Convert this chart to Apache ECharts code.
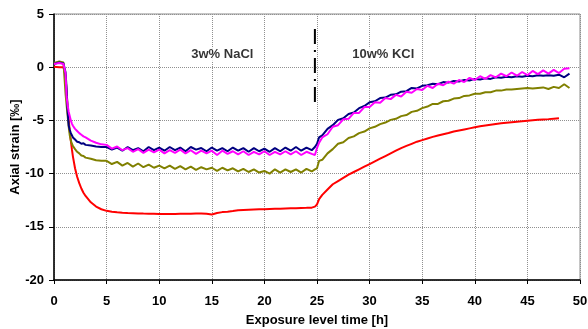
<!DOCTYPE html>
<html><head><meta charset="utf-8">
<script src="https://cdn.jsdelivr.net/npm/echarts@6/dist/echarts.min.js"></script>
<style>html,body{margin:0;padding:0;background:#fff}#c{width:588px;height:329px}</style>
</head><body><div id="c"></div>
<script>
const hours = [
 0, 0.5, 0.9, 1.1, 1.2, 1.3, 1.4, 1.5, 1.6, 1.7, 1.8, 2.0, 2.2, 2.4, 2.6, 2.8, 3.0, 3.5, 4.0, 4.5,
 5.0, 5.5, 6, 6.5, 7, 7.5, 8, 8.5, 9, 9.5, 10, 10.5, 11, 11.5, 12, 12.5, 13, 13.5, 14, 14.5,
 15, 15.5, 16, 16.5, 17, 17.5, 18, 18.5, 19, 19.5, 20, 20.5, 21, 21.5, 22, 22.5, 23, 23.5, 24, 24.5,
 24.8, 25.0, 25.2, 25.5, 26, 26.5, 27, 27.5, 28, 28.5, 29, 29.5, 30, 30.5, 31, 31.5, 32, 32.5, 33, 33.5,
 34, 34.5, 35, 35.5, 36, 36.5, 37, 37.5, 38, 38.5, 39, 39.5, 40, 40.5, 41, 41.5, 42, 42.5, 43, 43.5,
 44, 44.5, 45, 45.5, 46, 46.5, 47, 47.5, 48, 48.5, 49
];
const strainRed = [
 0.05, 0.0, 0.0, -0.8, -2.5, -3.8, -5.0, -6.0, -6.9, -7.7, -8.4, -9.5, -10.3, -10.9, -11.4, -11.8, -12.1, -12.7, -13.1, -13.35,
 -13.5, -13.58, -13.63, -13.67, -13.7, -13.72, -13.74, -13.76, -13.77, -13.78, -13.8, -13.8, -13.8, -13.79, -13.78, -13.78, -13.77, -13.76, -13.75, -13.78,
 -13.85, -13.7, -13.62, -13.58, -13.52, -13.45, -13.42, -13.4, -13.38, -13.36, -13.35, -13.33, -13.31, -13.3, -13.28, -13.26, -13.25, -13.23, -13.22, -13.2,
 -13.1, -12.9, -12.4, -12.0, -11.5, -11.0, -10.7, -10.4, -10.1, -9.85, -9.6, -9.35, -9.1, -8.85, -8.6, -8.35, -8.1, -7.85, -7.6, -7.4,
 -7.2, -7.0, -6.85, -6.7, -6.55, -6.42, -6.3, -6.18, -6.05, -5.95, -5.85, -5.75, -5.65, -5.55, -5.47, -5.4, -5.33, -5.27, -5.22, -5.17,
 -5.12, -5.07, -5.03, -4.99, -4.95, -4.91, -4.88, -4.84, -4.8, null, null
];
const strainOlive = [
 0.4, 0.55, 0.45, -2.5, -3.6, -4.6, -5.6, -6.4, -6.9, -7.2, -7.4, -7.7, -7.95, -8.1, -8.3, -8.35, -8.5, -8.6, -8.75, -8.8,
 -8.8, -9.1, -8.9, -9.25, -9.0, -9.35, -9.05, -9.4, -9.15, -9.45, -9.25, -9.5, -9.25, -9.55, -9.3, -9.6, -9.35, -9.65, -9.4, -9.6,
 -9.45, -9.75, -9.45, -9.7, -9.5, -9.8, -9.55, -9.85, -9.6, -9.9, -9.75, -10.0, -9.6, -9.9, -9.6, -9.85, -9.6, -9.9, -9.55, -9.8,
 -9.6, -9.5, -8.8, -8.7, -8.1, -7.7, -7.2, -7.05, -6.65, -6.5, -6.2, -6.05, -5.75, -5.6, -5.35, -5.2, -4.95, -4.85, -4.6, -4.5,
 -4.2, -4.1, -3.85, -3.7, -3.45, -3.45, -3.2, -3.15, -2.95, -2.9, -2.7, -2.65, -2.5, -2.5, -2.35, -2.35, -2.2, -2.2, -2.1, -2.1,
 -2.05, -2.0, -1.95, -2.0, -1.95, -1.9, -2.05, -1.85, -1.95, -1.6, -1.95
];
const strainNavy = [
 0.3, 0.45, 0.35, -0.5, -2.0, -4.2, -5.5, -5.9, -6.2, -6.4, -6.6, -6.8, -7.0, -7.05, -7.2, -7.15, -7.3, -7.35, -7.45, -7.5,
 -7.5, -7.75, -7.55, -7.85, -7.5, -7.8, -7.6, -7.9, -7.5, -7.8, -7.55, -7.85, -7.5, -7.8, -7.55, -7.9, -7.5, -7.75, -7.6, -7.9,
 -7.55, -7.85, -7.6, -7.9, -7.55, -7.85, -7.6, -7.95, -7.6, -7.9, -7.65, -7.95, -7.6, -7.9, -7.55, -7.85, -7.5, -7.85, -7.55, -7.8,
 -7.5, -7.2, -6.6, -6.4, -5.8, -5.45, -4.95, -4.8, -4.4, -4.25, -3.85, -3.65, -3.3, -3.2, -2.9, -2.85, -2.6, -2.55, -2.3, -2.25,
 -1.95, -2.0, -1.75, -1.7, -1.55, -1.6, -1.4, -1.45, -1.3, -1.35, -1.2, -1.25, -1.1, -1.15, -1.05, -1.1, -0.95, -1.0, -0.9, -0.95,
 -0.85, -0.9, -0.8, -0.85, -0.75, -0.8, -0.75, -0.8, -0.7, -0.95, -0.6
];
const strainMagenta = [
 0.3, 0.4, 0.3, -0.6, -2.8, -3.6, -4.2, -4.6, -5.0, -5.3, -5.5, -5.8, -6.0, -6.2, -6.35, -6.5, -6.6, -6.9, -7.1, -7.25,
 -7.3, -7.65, -7.45, -7.8, -7.6, -7.95, -7.7, -8.05, -7.75, -8.0, -7.75, -8.1, -7.8, -8.05, -7.75, -8.1, -7.8, -8.15, -7.85, -8.1,
 -7.85, -8.25, -7.85, -8.15, -7.9, -8.2, -7.9, -8.25, -7.95, -8.2, -7.9, -8.25, -7.95, -8.2, -7.9, -8.2, -7.9, -8.25, -7.95, -8.15,
 -8.25, -7.6, -7.1, -6.6, -6.3, -5.6, -5.45, -4.9, -4.85, -4.3, -4.3, -3.75, -3.75, -3.3, -3.35, -2.9, -3.0, -2.6, -2.75, -2.3,
 -2.4, -2.05, -2.15, -1.75, -1.95, -1.55, -1.7, -1.35, -1.55, -1.2, -1.4, -1.0, -1.2, -0.85, -1.1, -0.75, -0.95, -0.6, -0.85, -0.5,
 -0.8, -0.45, -0.75, -0.35, -0.65, -0.3, -0.6, -0.25, -0.55, -0.15, -0.1
];
const xTicks = [0, 5, 10, 15, 20, 25, 30, 35, 40, 45, 50];
const yTicks = [-20, -15, -10, -5, 0, 5];
const switchTime = 24.8;
const switchSpan = [3.6, -3.75];
const labelTexts = ['3w% NaCl', '10w% KCl'];
const labelTimes = [16.0, 31.3];
const labelLevel = 1.2;

const pair = arr => hours.map((h, i) => [h, arr[i]]);
const font = 'Liberation Sans, Arial, sans-serif';
const chart = echarts.init(document.getElementById('c'), null, {renderer: 'canvas'});
const mk = (name, arr, color, w) => ({
  name, type: 'line', data: pair(arr), symbol: 'none', showSymbol: false,
  lineStyle: {color, width: w}, itemStyle: {color}, animation: false, z: 3
});
const txt = {fontFamily: font, fontWeight: 'bold', fontSize: 13, color: '#000'};
chart.setOption({
  animation: false,
  grid: {left: 54, right: 8, top: 14, bottom: 49, containLabel: false, outerBoundsMode: 'none',
    show: true, borderColor: '#8c8c8c', borderWidth: 1, backgroundColor: 'transparent'},
  xAxis: {
    type: 'value', min: xTicks[0], max: xTicks[xTicks.length - 1], interval: 5,
    name: 'Exposure level time [h]', nameLocation: 'middle', nameGap: 34, nameMoveOverlap: false,
    nameTextStyle: txt,
    axisLine: {show: true, onZero: false, lineStyle: {color: '#000', width: 1.5}},
    axisTick: {show: true, length: 4, lineStyle: {color: '#000', width: 1}},
    axisLabel: Object.assign({margin: 15}, txt),
    splitLine: {show: true, lineStyle: {color: '#909090', type: 'dotted', width: 1}}
  },
  yAxis: {
    type: 'value', min: yTicks[0], max: yTicks[yTicks.length - 1], interval: 5,
    name: 'Axial strain [‰]', nameLocation: 'middle', nameGap: 32, nameRotate: 90, nameMoveOverlap: false,
    nameTextStyle: txt,
    axisLine: {show: true, onZero: false, lineStyle: {color: '#000', width: 1.5}},
    axisTick: {show: true, length: 5, lineStyle: {color: '#000', width: 1}},
    axisLabel: Object.assign({margin: 10}, txt),
    splitLine: {show: true, lineStyle: {color: '#909090', type: 'dotted', width: 1}}
  },
  series: [
    mk('red', strainRed, '#ff0000', 2),
    mk('olive', strainOlive, '#808000', 2),
    mk('navy', strainNavy, '#000080', 2),
    mk('magenta', strainMagenta, '#ff00ff', 2),
    {
      name: 'switch', type: 'line', symbol: 'none', z: 4,
      data: [[switchTime, switchSpan[0]], [switchTime, switchSpan[1]]],
      lineStyle: {color: '#000', width: 2, type: [15, 6, 2, 6]}
    },
    {
      name: 'labels', type: 'scatter', symbolSize: 0, z: 5,
      data: labelTimes.map((t, i) => ({value: [t, labelLevel], name: labelTexts[i]})),
      label: Object.assign({show: true, position: 'inside', formatter: p => p.name,
        backgroundColor: '#fff', padding: [1, 2]}, txt)
    }
  ]
});
</script></body></html>
